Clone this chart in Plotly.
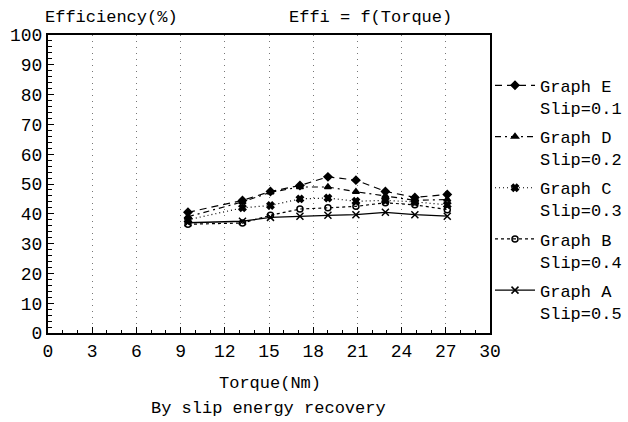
import plotly.graph_objects as go

torque = [9.5, 13.2, 15.1, 17.1, 19.0, 20.9, 22.9, 24.9, 27.1]
graph_e = [40.5, 44.5, 47.5, 49.5, 52.4, 51.3, 47.5, 45.5, 46.5]
graph_d = [39.0, 44.0, 47.2, 49.0, 49.0, 47.4, 46.0, 44.5, 44.8]
graph_c = [38.0, 42.0, 42.8, 45.0, 45.3, 44.2, 44.5, 44.0, 43.0]
graph_b = [36.5, 36.9, 39.5, 41.6, 42.0, 42.5, 43.7, 43.0, 41.4]
graph_a = [37.0, 37.5, 38.8, 39.2, 39.5, 39.7, 40.5, 39.7, 39.2]

names = ["Graph E<br>Slip=0.1", "Graph D<br>Slip=0.2", "Graph C<br>Slip=0.3",
         "Graph B<br>Slip=0.4", "Graph A<br>Slip=0.5"]
series = [graph_e, graph_d, graph_c, graph_b, graph_a]
dashes = ["7px,5px", "6px,4px,2px,4px", "1px,3px", "3px,3px", "solid"]
symbols = ["diamond", "triangle-up", "x", "circle-open", "x-thin-open"]
msizes = [6, 6, 6, 6, 7]

FONT = "Liberation Mono"

fig = go.Figure()
for i, (nm, ys) in enumerate(zip(names, series)):
    fig.add_trace(go.Scatter(
        x=torque, y=ys, name=nm, mode="lines+markers",
        legendgroup=f"g{i}",
        line=dict(color="black", width=1.3 if i == 4 else 1.2, dash=dashes[i]),
        marker=dict(symbol=symbols[i], size=msizes[i], color="black",
                    line=dict(color="black", width=1.5)),
    ))

fig.update_layout(
    width=628, height=422, autosize=False,
    margin=dict(l=48, r=138, t=35, b=89, autoexpand=False),
    paper_bgcolor="white", plot_bgcolor="white",
    font=dict(family=FONT, size=18, color="black"),
    showlegend=True,
    legend=dict(x=1.0, xanchor="left", y=0.89, yanchor="top",
                traceorder="grouped", tracegroupgap=4,
                valign="top", bgcolor="rgba(0,0,0,0)", borderwidth=0,
                font=dict(family=FONT, size=17), itemwidth=40),
    xaxis=dict(range=[0, 30], tickvals=list(range(0, 31, 3)),
               ticks="inside", ticklen=6, tickwidth=1, tickcolor="black",
               showline=True, linewidth=2, linecolor="black", mirror=True,
               showgrid=True, gridcolor="#777", gridwidth=1, griddash="1px,5px",
               zeroline=False, tickfont=dict(size=18),
               minor=dict(dtick=1, ticks="inside", ticklen=3, tickcolor="black",
                          showgrid=False)),
    yaxis=dict(range=[0, 100], tickvals=list(range(0, 101, 10)),
               ticks="inside", ticklen=6, tickwidth=1, tickcolor="black",
               showline=True, linewidth=2, linecolor="black", mirror=True,
               showgrid=False, zeroline=False, tickfont=dict(size=18),
               minor=dict(dtick=2, ticks="inside", ticklen=4, tickcolor="black",
                          showgrid=False)),
    annotations=[
        dict(text="Torque(Nm)", xref="paper", yref="paper", x=0.502, y=-0.168,
             showarrow=False, xanchor="center", yanchor="middle", font=dict(size=17)),
        dict(text="By slip energy recovery", xref="paper", yref="paper", x=0.498, y=-0.252,
             showarrow=False, xanchor="center", yanchor="middle", font=dict(size=17)),
        dict(text="Efficiency(%)", xref="paper", yref="paper", x=-0.011, y=1.06,
             showarrow=False, xanchor="left", yanchor="middle", font=dict(size=17)),
        dict(text="Effi = f(Torque)", xref="paper", yref="paper", x=0.729, y=1.06,
             showarrow=False, xanchor="center", yanchor="middle", font=dict(size=17)),
    ],
)

fig.write_html("out.html")
